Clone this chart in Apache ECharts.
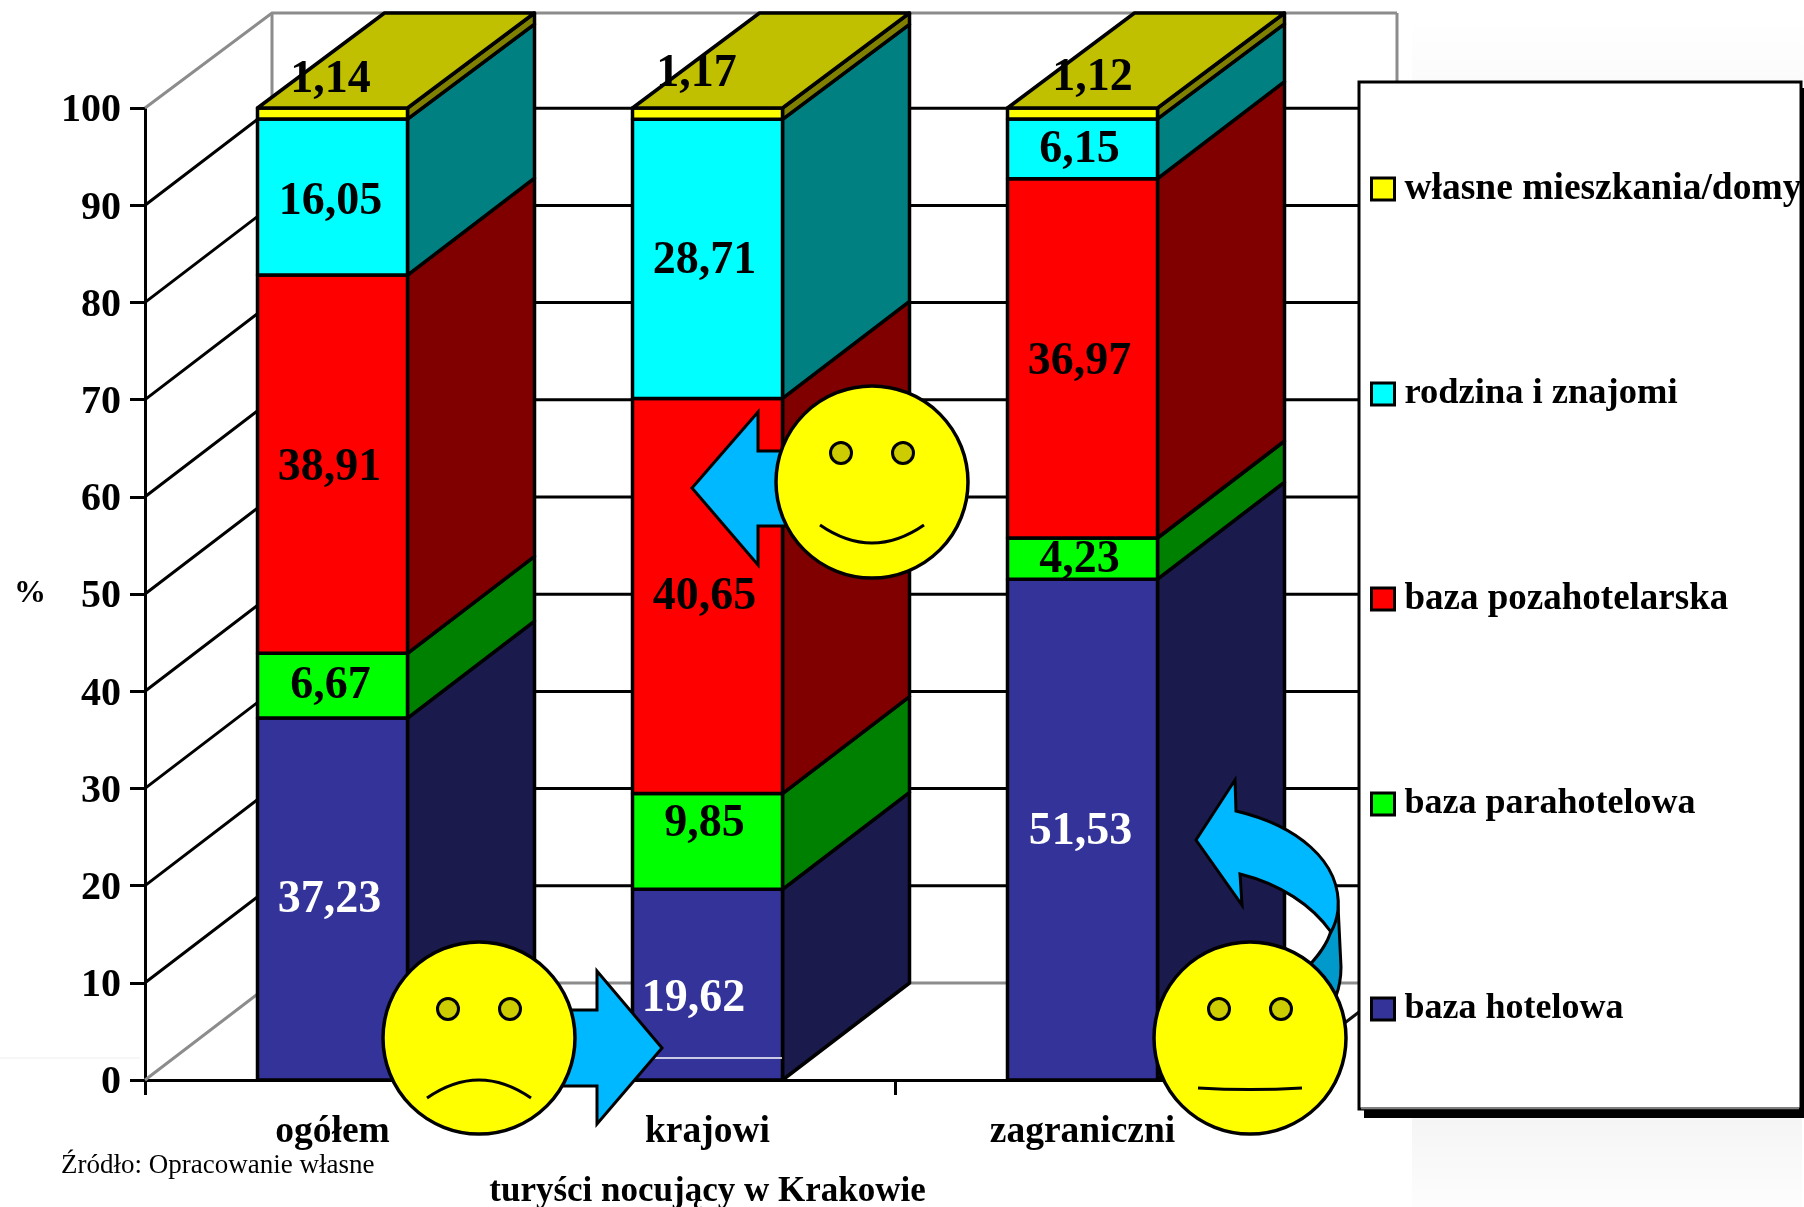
<!DOCTYPE html>
<html>
<head>
<meta charset="utf-8">
<style>html,body{margin:0;padding:0;background:#fff}#c{width:1804px;height:1207px}</style>
<script src="https://cdn.jsdelivr.net/npm/echarts@6/dist/echarts.min.js"></script>
</head>
<body>
<div id="c"></div>
<script>
const categories = ['ogółem', 'krajowi', 'zagraniczni'];
const seriesNames = ['baza hotelowa', 'baza parahotelowa', 'baza pozahotelarska', 'rodzina i znajomi', 'własne mieszkania/domy'];
const hotelowa = [37.23, 19.62, 51.53];
const parahotelowa = [6.67, 9.85, 4.23];
const pozahotelarska = [38.91, 40.65, 36.97];
const rodzina = [16.05, 28.71, 6.15];
const wlasne = [1.14, 1.17, 1.12];
const yTicks = [0, 10, 20, 30, 40, 50, 60, 70, 80, 90, 100];

const frontColors = ['#333399', '#00FF00', '#FF0000', '#00FFFF', '#FFFF00'];
const sideColors = ['#1A1A4D', '#008000', '#800000', '#008080', '#808000'];
const labelColors = ['#fff', '#000', '#000', '#000', '#000'];
const labelShift = [
  [[-3, 1], [-14, 14], [-2, 3]],
  [[-2, 0], [-3, -17], [-3, 2]],
  [[-3, 4], [-3, 1], [-3, 4]],
  [[-2, 5], [-3, 2], [-3, 1]],
  [[-2, -33], [-11, -40], [10, -35]]
];
const DX = 127;
const dyOf = v => (v >= 95 ? 95 : 97);
const SERIF = '"Liberation Serif","Times New Roman",serif';
const allValues = [hotelowa, parahotelowa, pozahotelarska, rodzina, wlasne];
const legendSizes = { 'własne mieszkania/domy': 37.5, 'baza pozahotelarska': 37, 'rodzina i znajomi': 36.5 };

function barSeries(si) {
  const data = categories.map((c, i) => {
    let base = 0;
    for (let k = 0; k < si; k++) base += allValues[k][i];
    return [i, base, base + allValues[si][i], allValues[si][i]];
  });
  return {
    type: 'custom', name: seriesNames[si], z: 3, data,
    encode: { x: 0, y: [1, 2] },
    itemStyle: { color: frontColors[si] },
    renderItem(params, api) {
      const i = api.value(0), v0 = api.value(1), v1 = api.value(2), val = api.value(3);
      const w = api.size([1, 0])[0] * 0.4;
      const p0 = api.coord([i, v0]), p1 = api.coord([i, v1]);
      const l = p0[0] - w / 2, r = p0[0] + w / 2;
      const d0 = dyOf(v0), d1 = dyOf(v1);
      const line = { stroke: '#000', lineWidth: 3.5, lineJoin: 'round' };
      const children = [
        { type: 'polygon', shape: { points: [[r, p0[1]], [r + DX, p0[1] - d0], [r + DX, p1[1] - d1], [r, p1[1]]] },
          style: Object.assign({ fill: sideColors[si] }, line) },
        { type: 'polygon', shape: { points: [[l, p0[1]], [r, p0[1]], [r, p1[1]], [l, p1[1]]] },
          style: Object.assign({ fill: frontColors[si] }, line) }
      ];
      if (si === seriesNames.length - 1) {
        children.push({ type: 'polygon', shape: { points: [[l, p1[1]], [r, p1[1]], [r + DX, p1[1] - d1], [l + DX, p1[1] - d1]] },
          style: Object.assign({ fill: '#C0C000' }, line) });
      }
      const sh = labelShift[si][i];
      children.push({ type: 'text', z2: 10, style: {
        text: val.toFixed(2).replace('.', ','), x: p0[0] + sh[0], y: (p0[1] + p1[1]) / 2 + sh[1],
        fill: labelColors[si], font: 'bold 46px ' + SERIF, textAlign: 'center', textVerticalAlign: 'middle' } });
      return { type: 'group', children };
    }
  };
}

const wallSeries = {
  type: 'custom', name: 'walls', z: 1, silent: true,
  data: yTicks.map(t => [0, t]),
  encode: { x: 0, y: 1 },
  renderItem(params, api) {
    const t = api.value(1), y = api.coord([0, t])[1];
    const cs = params.coordSys, x = cs.x, xr = cs.x + cs.width;
    const edge = t === 0 || t === 100;
    const col = edge ? '#8C8C8C' : '#000';
    const dy = dyOf(t);
    const children = [{ type: 'polyline', shape: { points: [[x, y], [x + DX, y - dy], [xr + DX, y - dy]] },
      style: { fill: 'none', stroke: col, lineWidth: 3 } }];
    if (t === 0) {
      const yTop = api.coord([0, 100])[1] - dyOf(100);
      children.push({ type: 'line', shape: { x1: x + DX, y1: y - dy, x2: x + DX, y2: yTop }, style: { stroke: '#8C8C8C', lineWidth: 3 } });
      children.push({ type: 'line', shape: { x1: xr + DX, y1: y - dy, x2: xr + DX, y2: yTop }, style: { stroke: '#8C8C8C', lineWidth: 3 } });
      children.push({ type: 'line', shape: { x1: xr, y1: y, x2: xr + DX, y2: y - dy }, style: { stroke: '#111', lineWidth: 3 } });
    }
    return { type: 'group', children };
  }
};

function face(cx, cy, mouth) {
  const eye = dx => ({ type: 'circle', shape: { cx: cx + dx, cy: cy - 29, r: 10.5 }, style: { fill: '#CCCC00', stroke: '#000', lineWidth: 3 } });
  return [
    { type: 'circle', shape: { cx, cy, r: 96 }, style: { fill: '#FFFF00', stroke: '#000', lineWidth: 3.5 } },
    eye(-31), eye(31),
    { type: 'path', shape: { pathData: mouth }, style: { fill: 'none', stroke: '#000', lineWidth: 3 } }
  ];
}
const ARROW = '#00B8FF';
const arrowStyle = { fill: ARROW, stroke: '#000', lineWidth: 3, lineJoin: 'miter' };
const annotationSeries = {
  type: 'custom', name: 'annotations', z: 6, silent: true, coordinateSystem: 'none',
  data: [[0]],
  renderItem() {
    return { type: 'group', children: [
      // curved arrow below the neutral face
      { type: 'path', shape: { pathData: 'M1338 905 L1341 967 C1341 980 1339 988 1336 996 L1300 975 C1315 960 1328 945 1331 930 Z' }, style: { fill: '#0099CC', stroke: '#000', lineWidth: 3 } },
      { type: 'path', shape: { pathData: 'M1196 840 L1235 780 L1236 811 C1295 825 1342 860 1338 910 C1337 918 1335 925 1331 932 C1312 905 1280 884 1240 874 L1242 905 Z' }, style: arrowStyle },
      // block arrows
      { type: 'polygon', shape: { points: [[692, 488], [758, 412], [758, 451], [880, 451], [880, 526], [758, 526], [758, 565]] }, style: arrowStyle },
      { type: 'polygon', shape: { points: [[662, 1048], [597, 971], [597, 1010], [480, 1010], [480, 1086], [597, 1086], [597, 1124]] }, style: arrowStyle },
      // faces
      ...face(872, 482, 'M820 525 Q872 561 924 525'),
      ...face(479, 1038, 'M427 1098 Q479 1062 531 1098'),
      ...face(1250, 1038, 'M1198 1088 Q1250 1091 1302 1088')
    ] };
  }
};

const legendRich = {};
Object.keys(legendSizes).forEach((n, i) => {
  legendRich['s' + i] = { fontFamily: SERIF, fontWeight: 'bold', fontSize: legendSizes[n], color: '#000', lineHeight: 40 };
});

const chart = echarts.init(document.getElementById('c'), null, { renderer: 'canvas' });
chart.setOption({
  animation: false,
  backgroundColor: '#fff',
  grid: { left: 145, top: 108, width: 1125, height: 972, outerBoundsMode: 'none', containLabel: false },
  xAxis: {
    type: 'category', data: categories,
    name: 'turyści nocujący w Krakowie', nameLocation: 'middle', nameGap: 94,
    nameTextStyle: { fontFamily: SERIF, fontWeight: 'bold', fontSize: 35, color: '#000' },
    axisLine: { lineStyle: { color: '#000', width: 3 } },
    axisTick: { show: true, alignWithLabel: false, length: 15, lineStyle: { color: '#000', width: 3 } },
    axisLabel: { interval: 0, margin: 33, fontFamily: SERIF, fontWeight: 'bold', fontSize: 37.5, color: '#000' },
    splitLine: { show: false }
  },
  yAxis: {
    type: 'value', min: 0, max: 100, interval: 10,
    name: '%', nameLocation: 'middle', nameRotate: 0, nameGap: 99,
    nameTextStyle: { fontFamily: SERIF, fontWeight: 'bold', fontSize: 32, color: '#000' },
    axisLine: { show: true, lineStyle: { color: '#000', width: 3 } },
    axisTick: { show: true, length: 15, lineStyle: { color: '#000', width: 3 } },
    axisLabel: {
      margin: 24, fontFamily: SERIF, fontWeight: 'bold', fontSize: 40, color: '#000',
      formatter: v => '{t|' + v + '}',
      rich: { t: { fontFamily: SERIF, fontWeight: 'bold', fontSize: 40, color: '#000', padding: [6, 0, 0, 0] } }
    },
    splitLine: { show: false }
  },
  legend: {
    show: true, z: 10, orient: 'vertical', left: 1365, top: 164, selectedMode: false,
    data: seriesNames.slice().reverse(),
    icon: 'rect', itemWidth: 23, itemHeight: 22, itemGap: 165,
    itemStyle: { borderColor: '#000', borderWidth: 3 },
    formatter(name) {
      const k = Object.keys(legendSizes).indexOf(name);
      return k >= 0 ? '{s' + k + '|' + name + '}' : name;
    },
    textStyle: { fontFamily: SERIF, fontWeight: 'bold', fontSize: 36, color: '#000', lineHeight: 40, padding: [0, 0, 0, 5], rich: legendRich }
  },
  graphic: [
    { type: 'rect', z: 5, shape: { x: 1412, y: 1118, width: 390, height: 89 },
      style: { fill: new echarts.graphic.LinearGradient(0, 0, 0, 1, [{ offset: 0, color: '#F5F5F5' }, { offset: 1, color: '#FDFDFD' }]) } },
    { type: 'rect', z: 5, shape: { x: 1412, y: 20, width: 392, height: 62 },
      style: { fill: new echarts.graphic.LinearGradient(0, 0, 0, 1, [{ offset: 0, color: '#FFFFFF' }, { offset: 1, color: '#FBFBFB' }]) } },
    { type: 'rect', z: 5, shape: { x: 1364, y: 88, width: 445, height: 1030 }, style: { fill: '#000' } },
    { type: 'rect', z: 5, shape: { x: 1359, y: 82, width: 442, height: 1027 }, style: { fill: '#fff', stroke: '#000', lineWidth: 3 } },
    { type: 'line', z: 5, shape: { x1: 1361, y1: 1108.5, x2: 1799, y2: 1108.5 }, style: { stroke: '#808080', lineWidth: 1.5 } },
    { type: 'line', z: 5, shape: { x1: 0, y1: 1058, x2: 140, y2: 1058 }, style: { stroke: '#EEEEEE', lineWidth: 1 } },
    { type: 'line', z: 5, shape: { x1: 655, y1: 1058, x2: 782, y2: 1058 }, style: { stroke: '#fff', lineWidth: 1.5 } },
    { type: 'text', z: 5, style: { text: 'Źródło: Opracowanie własne', x: 61, y: 1166, fill: '#000', font: '27px ' + SERIF, textVerticalAlign: 'middle' } }
  ],
  series: [wallSeries, ...seriesNames.map((n, i) => barSeries(i)), annotationSeries]
});
</script>
</body>
</html>
